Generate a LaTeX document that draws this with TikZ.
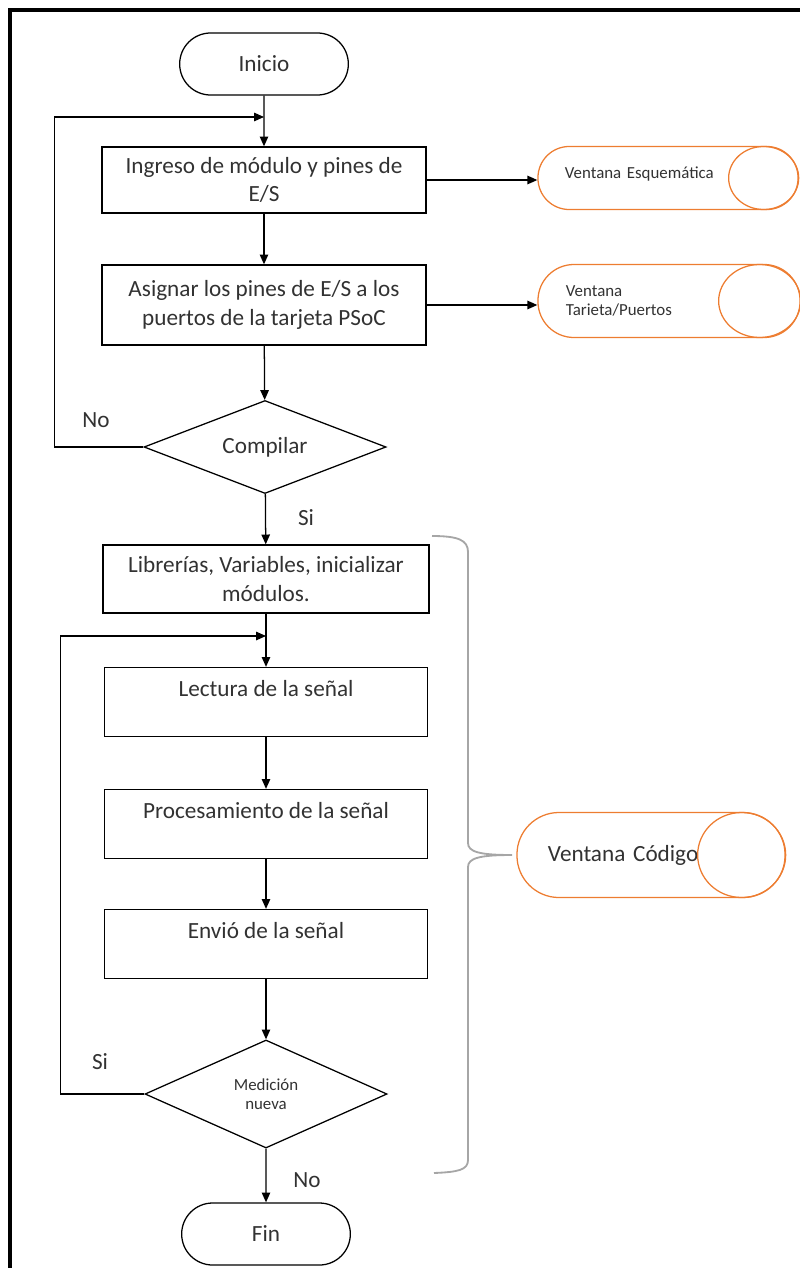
\documentclass[tikz,border=0pt]{standalone}
\usepackage{fontspec}
\setmainfont{Carlito}
\usetikzlibrary{arrows.meta,shapes.geometric,shapes.misc}
\definecolor{naranja}{RGB}{237,125,49}
\definecolor{letra}{RGB}{50,50,50}

\begin{document}
\begin{tikzpicture}[x=0.025cm, y=-0.025cm, line width=0.9pt, >={Triangle[length=7pt,width=6pt]}]
\useasboundingbox (0,0) rectangle (800,1268);
\draw[line width=3pt] (10,10) rectangle (840,1300);
\tikzstyle{every node} = [text=letra, font=\fontsize{16.5}{20.5}\selectfont]
\tikzstyle{term} = [draw, rounded rectangle, minimum width=4.45cm, minimum height=1.55cm]
\tikzstyle{caja} = [draw, rectangle, minimum width=8.1cm, minimum height=1.7cm, align=center]
\tikzstyle{arriba} = [caja, text depth=19pt]
\tikzstyle{rombo} = [draw, diamond, aspect=2.6, minimum width=6.05cm, inner sep=0pt, align=center]
\tikzstyle{ventana} = [draw=naranja, rectangle, text width=5.15cm, align=left]
\tikzstyle{chica} = [font=\fontsize{12}{13.5}\selectfont]
% columna principal
\node[term] (ini) at (264,64) {Inicio};
\node[caja, minimum height=1.65cm] (b1) at (264,180) {Ingreso de módulo y pines de\\E/S};
\node[caja, minimum height=2cm] (b2) at (264,305) {Asignar los pines de E/S a los\\puertos de la tarjeta PSoC};
\node[rombo, minimum height=2.325cm] (c1) at (265,447) {Compilar};
\node[caja, minimum width=8.15cm] (b3) at (266,579) {Librerías, Variables, inicializar\\módulos.};
\node[arriba, minimum width=8.075cm, minimum height=1.725cm] (b4) at (266,702) {Lectura de la señal};
\node[arriba, minimum width=8.075cm, minimum height=1.725cm] (b5) at (266,824) {Procesamiento de la señal};
\node[arriba, minimum width=8.075cm, minimum height=1.725cm] (b6) at (266,944) {Envió de la señal};
\node[rombo, minimum height=2.7cm, chica] (c2) at (266,1094) {Medición\\nueva};
\node[term] (fin) at (266,1234) {Fin};
% ventanas
\node[ventana, minimum width=6.5cm, minimum height=1.575cm, rounded corners=0.78cm, text depth=7pt, chica] (esq) at (668,178) {Ventana Esquemática};
\node[ventana, minimum width=6.55cm, minimum height=1.825cm, rounded corners=0.9cm, chica] (tar) at (669,301) {Ventana\\Tarieta/Puertos};
\node[ventana, minimum width=6.7cm, minimum height=2.125cm, rounded corners=1.05cm] (cod) at (651,855) {Ventana Código};
\draw[naranja] ([xshift=-0.875cm]esq.east) ellipse (0.875cm and 0.7875cm);
\draw[naranja] ([xshift=-1.025cm]tar.east) ellipse (1.025cm and 0.9125cm);
\draw[naranja] ([xshift=-1.1cm]cod.east) ellipse (1.1cm and 1.0625cm);
% etiquetas
\node (no1) at (96,420) {No};
\node (si1) at (306,518) {Si};
\node (si2) at (100,1062) {Si};
\node (no2) at (307,1180) {No};
\coordinate (j1) at (264,117);
\coordinate (j2) at (266,636);
% flechas
\draw[->] (ini) -- (b1);
\draw[->] (b1) -- (b2);
\draw[->] (b2) -- (c1);
\draw[->] (c1) -- (b3);
\draw[->] (b3) -- (b4);
\draw[->] (b4) -- (b5);
\draw[->] (b5) -- (b6);
\draw[->] (b6) -- (c2);
\draw[->] (c2) -- (fin);
\draw[->] (b1.east) -- (b1.east -| esq.west);
\draw[->] (b2.east) -- (b2.east -| tar.west);
\draw[->] (c1.west) -- ++(-89,0) |- (j1);
\draw[->] (c2.west) -- ++(-84,0) |- (j2);
% llave
\draw[gray!70, line width=1.3pt] (432,536) .. controls (458,536) and (468,540) .. (468,552) -- (468,843) .. controls (468,852) and (480,855) .. (512,855) .. controls (480,855) and (468,858) .. (468,867) -- (468,1160) .. controls (468,1170) and (458,1172) .. (434,1173);
\end{tikzpicture}
\end{document}
